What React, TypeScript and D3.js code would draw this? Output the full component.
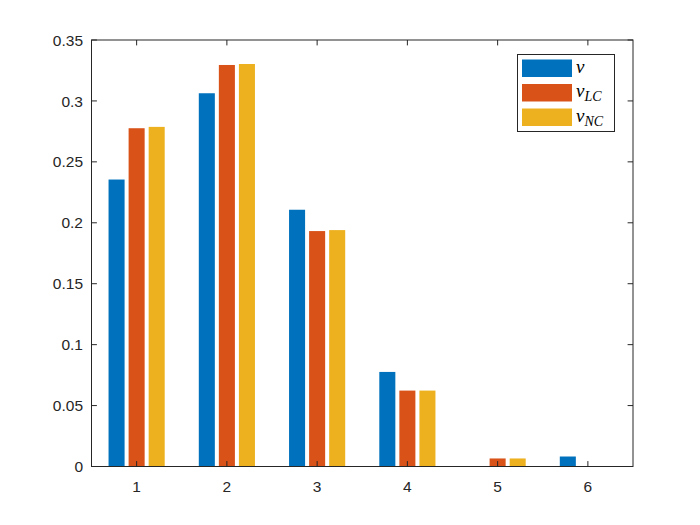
import React from "react";
import * as d3 from "d3";

const categories = [1, 2, 3, 4, 5, 6];
const seriesNames = ["v", "v_LC", "v_NC"];
const vValues = [0.2355, 0.3063, 0.2107, 0.0776, 0, 0.0082];
const vLCValues = [0.2776, 0.3295, 0.1932, 0.0623, 0.0066, 0.0003];
const vNCValues = [0.2787, 0.3303, 0.194, 0.0623, 0.0066, 0.0003];
const yTicks = [0, 0.05, 0.1, 0.15, 0.2, 0.25, 0.3, 0.35];
const colors = ["#0072BD", "#D95319", "#EDB120"];

export default function App() {
  const W = 700, H = 525;
  const left = 91.5, right = 633, top = 40, bottom = 466.5;
  const x = d3.scaleLinear().domain([0.5, 6.5]).range([left, right]);
  const y = d3.scaleLinear().domain([0, 0.35]).range([bottom, top]);
  const series = [vValues, vLCValues, vNCValues];
  const groupW = 3 / 4.5; // MATLAB grouped width
  const step = groupW / 3;
  const barW = step * 0.8;
  const axisColor = "#262626";
  const tickLen = 5.4;
  const fontFamily = "Helvetica, Arial, 'Liberation Sans', sans-serif";

  const legX = 517.5, legY = 54.5, legW = 97, legH = 77;
  const labelSub = [null, "LC", "NC"];

  return (
    <svg width={W} height={H} style={{ position: "absolute", left: 0, top: 0 }}>
      <rect x={0} y={0} width={W} height={H} fill="#ffffff" />
      {series.map((vals, si) =>
        vals.map((val, ci) => {
          const cx = categories[ci] + (si - 1) * step;
          const x0 = x(cx - barW / 2);
          const x1 = x(cx + barW / 2);
          return (
            <rect
              key={`b${si}-${ci}`}
              x={x0}
              y={y(val)}
              width={x1 - x0}
              height={Math.max(0, y(0) - y(val))}
              fill={colors[si]}
            />
          );
        })
      )}
      <rect x={left} y={top} width={right - left} height={bottom - top} fill="none" stroke={axisColor} strokeWidth={1} />
      {yTicks.map((t) => (
        <g key={`yt${t}`}>
          <line x1={left} x2={left + tickLen} y1={y(t)} y2={y(t)} stroke={axisColor} />
          <line x1={right} x2={right - tickLen} y1={y(t)} y2={y(t)} stroke={axisColor} />
          <text x={left - 8.5} y={y(t)} dy="0.36em" textAnchor="end" fontSize={15.5} fill={axisColor} fontFamily={fontFamily}>
            {t === 0 ? "0" : String(t)}
          </text>
        </g>
      ))}
      {categories.map((c) => (
        <g key={`xt${c}`}>
          <line x1={x(c)} x2={x(c)} y1={bottom} y2={bottom - tickLen} stroke={axisColor} />
          <line x1={x(c)} x2={x(c)} y1={top} y2={top + tickLen} stroke={axisColor} />
          <text x={x(c)} y={bottom + 19.5} dy="0.36em" textAnchor="middle" fontSize={15.5} fill={axisColor} fontFamily={fontFamily}>
            {c}
          </text>
        </g>
      ))}
      <rect x={legX} y={legY} width={legW} height={legH} fill="#ffffff" stroke={axisColor} strokeWidth={1} />
      {seriesNames.map((name, i) => {
        const ry = 59.5 + i * 24.5;
        return (
          <g key={name}>
            <rect x={522} y={ry} width={50} height={17.5} fill={colors[i]} />
            <text x={576} y={ry + 13} fontSize={19} fontStyle="italic" fill="#000" fontFamily="'Liberation Serif', 'Times New Roman', serif">
              v
              {labelSub[i] && (
                <tspan fontSize={14} dy={4}>
                  {labelSub[i]}
                </tspan>
              )}
            </text>
          </g>
        );
      })}
    </svg>
  );
}
